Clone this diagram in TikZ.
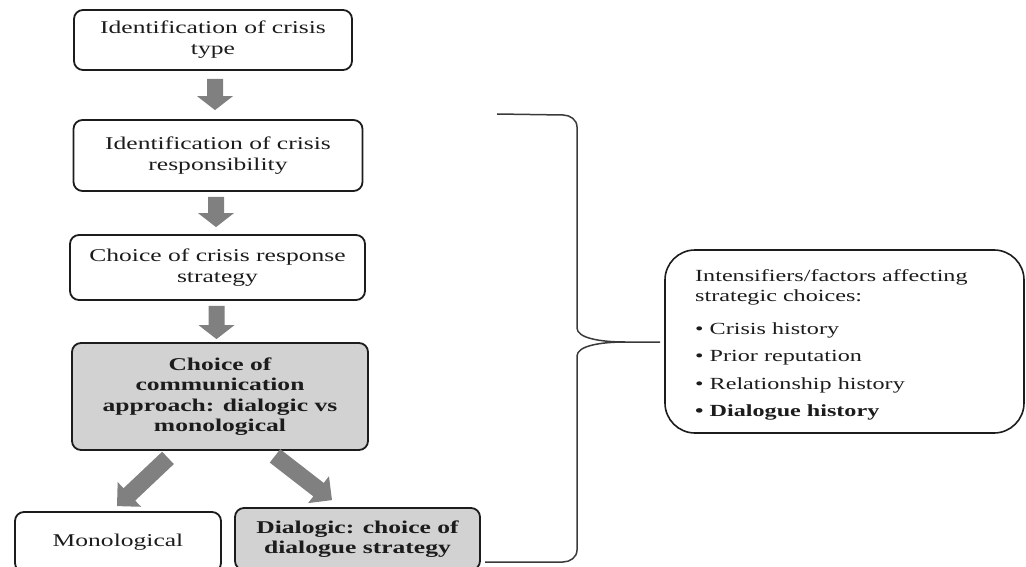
\documentclass[tikz,border=0pt]{standalone}
\usepackage{fontspec}
\setmainfont{Liberation Serif}[FakeStretch=1.42]
\usetikzlibrary{calc}
\definecolor{boxgray}{HTML}{D2D2D2}
\definecolor{arrowgray}{HTML}{808080}
\definecolor{ink}{HTML}{1C1C1C}
\definecolor{bracegray}{HTML}{3A3A3A}

% block arrow: from, to, half shaft, half head, head length
\newcommand\blockarr[5]{%
  \path let \p1=#1, \p2=#2 in
    \pgfextra{%
      \pgfmathsetmacro\baangtmp{atan2(\y2-\y1,\x2-\x1)}%
      \pgfmathsetmacro\balentmp{veclen(\x2-\x1,\y2-\y1)}%
      \xdef\baang{\baangtmp}\xdef\balen{\balentmp}%
      \xdef\bax{\x1}\xdef\bay{\y1}};
  \fill[arrowgray, shift={(\bax,\bay)}, rotate=\baang]
    (0,-#3) -- (\balen-#5,-#3) -- (\balen-#5,-#4) -- (\balen,0)
    -- (\balen-#5,#4) -- (\balen-#5,#3) -- (0,#3) -- cycle;}

\begin{document}
\begin{tikzpicture}[x=1pt,y=1pt,
  stepbox/.style={draw=ink, line width=1.8pt, rounded corners=9pt, align=center,
    inner sep=0pt, text=ink, font=\fontsize{18}{21}\selectfont},
  greybox/.style={stepbox, fill=boxgray, font=\fontsize{18}{20.5}\selectfont\bfseries},
  factorbox/.style={draw=ink, line width=1.6pt, rounded corners=30pt},
  bracestyle/.style={draw=bracegray, line width=1.5pt}]
\useasboundingbox (0,0) rectangle (1026,-567);
\clip (0,0) rectangle (1026,-567);

\node[stepbox, minimum width=278, minimum height=60] (b1) at (213,-40)
  {Identification of crisis\\ type};
\node[stepbox, minimum width=289, minimum height=71] (b2) at (218,-155.5)
  {Identification of crisis\\ responsibility};
\node[stepbox, minimum width=295, minimum height=65] (b3) at (217.5,-267.5)
  {Choice of crisis response\\ strategy};
\node[greybox, minimum width=296, minimum height=107] (b4) at (220,-396.5)
  {Choice of\\ communication\\ approach: dialogic vs\\ monological};
\node[stepbox, minimum width=206, minimum height=60] (mono) at (118,-542)
  {Monological};
\node[greybox, minimum width=245, minimum height=62] (dial) at (357.5,-539)
  {Dialogic: choice of\\ dialogue strategy};

\blockarr{($(b1.south)+(2,-8)$)}{($(b2.north)+(-3,9)$)}{8}{18}{14}
\blockarr{($(b2.south)+(-2,-5)$)}{($(b3.north)+(-1.5,7)$)}{8}{18}{14}
\blockarr{($(b3.south)+(-1,-5)$)}{($(b4.north)+(-3.5,3)$)}{8}{18}{14}
\blockarr{($(b4.south)+(-52,-7)$)}{($(mono.north)+(-1,5)$)}{8.5}{17}{17}
\blockarr{($(b4.south)+(55,-5)$)}{($(dial.north)+(-25.5,7)$)}{8.5}{17}{17}

% brace
\coordinate (tip) at (660,-342);
\draw[bracestyle] (497,-114) -- (563,-115) to[out=0,in=90] (577,-127)
  -- (577,-328) .. controls (577,-338) and (600,-342) .. (625,-342) -- (tip);
\draw[bracestyle] (625,-342) .. controls (600,-342) and (577,-346) .. (577,-356)
  -- (577,-550) to[out=-90,in=0] (563,-562) -- (485,-562);

% factors box
\node[factorbox, minimum width=359, minimum height=183] (fbox) at (844.5,-341.5) {};
\node[anchor=north west, align=left, inner sep=0pt, text=ink,
  font=\fontsize{17}{20}\selectfont] (ftext) at (695,-269)
  {Intensifiers/factors affecting\\ strategic choices:\\[13pt]
   \textbullet\ Crisis history\\[7.5pt]
   \textbullet\ Prior reputation\\[7.5pt]
   \textbullet\ Relationship history\\[7.5pt]
   \textbf{\textbullet\ Dialogue history}};
\end{tikzpicture}
\end{document}
